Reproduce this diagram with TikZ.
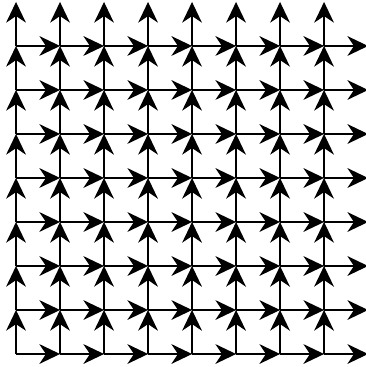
\documentclass[tikz,border=0pt]{standalone}
\usepackage{tikz}
\usetikzlibrary{arrows.meta}

\begin{document}
\begin{tikzpicture}[x=1cm, y=1cm,
    latt/.style={line width=0.8pt, -{Stealth[length=4.7mm, width=4.5mm, inset=1.5mm]}}]
    \useasboundingbox (-0.364,-0.295) rectangle (7.932,8.045);
    % lattice points
    \foreach \i in {0,...,8} {
        \foreach \j in {0,...,8} {
            \coordinate (p-\i-\j) at (\i,\j);
        }
    }
    % arrows to the right and up
    \foreach \i [evaluate=\i as \n using int(\i+1)] in {0,...,7} {
        \foreach \j [evaluate=\j as \m using int(\j+1)] in {0,...,7} {
            \draw[latt] (p-\i-\j) -- (p-\n-\j);
            \draw[latt] (p-\i-\j) -- (p-\i-\m);
        }
    }
\end{tikzpicture}
\end{document}
